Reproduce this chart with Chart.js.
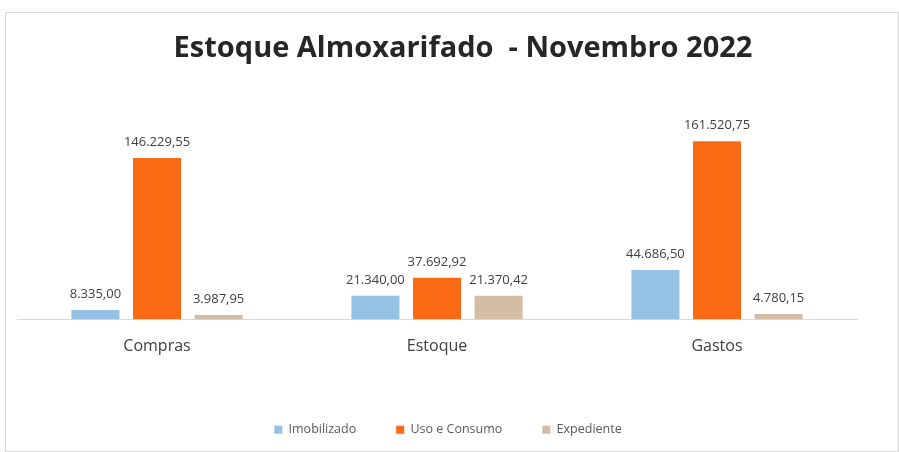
<!DOCTYPE html>
<html>
<head>
<meta charset="utf-8">
<script src="https://cdn.jsdelivr.net/npm/chart.js@4"></script>
<style>
  html, body { margin: 0; padding: 0; background: #fff; }
  #wrap { width: 899px; height: 452px; position: relative; }
</style>
</head>
<body>
<div id="wrap"><canvas id="chart" width="899" height="452"></canvas></div>
<script>
const categories = ["Compras", "Estoque", "Gastos"];
const imobilizado = [8335.00, 21340.00, 44686.50];
const usoConsumo = [146229.55, 37692.92, 161520.75];
const expediente = [3987.95, 21370.42, 4780.15];
const seriesNames = ["Imobilizado", "Uso e Consumo", "Expediente"];

const fmt = v => v.toLocaleString("pt-BR", { minimumFractionDigits: 2, maximumFractionDigits: 2 });

// draws value labels above each bar
const valueLabels = {
  id: "valueLabels",
  afterDatasetsDraw(chart) {
    const ctx = chart.ctx;
    ctx.save();
    ctx.font = "13px 'Open Sans'";
    ctx.fillStyle = "#404040";
    ctx.textAlign = "center";
    ctx.textBaseline = "bottom";
    chart.data.datasets.forEach((ds, i) => {
      chart.getDatasetMeta(i).data.forEach((bar, j) => {
        ctx.fillText(fmt(ds.data[j]), bar.x, bar.y - 9);
      });
    });
    ctx.restore();
  }
};

// title and legend sit a little right of the plot centre in the original
const nudge = {
  id: "nudge",
  afterLayout(chart) {
    chart.titleBlock.left += 26;
    chart.titleBlock.right += 26;
    chart.legend.left += 11;
    chart.legend.right += 11;
  }
};

// thin frame around the chart like the original
const frame = {
  id: "frame",
  beforeDraw(chart) {
    const ctx = chart.ctx;
    ctx.save();
    ctx.strokeStyle = "#d9d9d9";
    ctx.lineWidth = 1;
    ctx.strokeRect(5.5, 12.5, 893, 439);
    ctx.restore();
  }
};

const ctx = document.getElementById("chart").getContext("2d");
new Chart(ctx, {
  type: "bar",
  data: {
    labels: categories,
    datasets: [
      { label: seriesNames[0], data: imobilizado, backgroundColor: "#95C2E4" },
      { label: seriesNames[1], data: usoConsumo, backgroundColor: "#FC6A16" },
      { label: seriesNames[2], data: expediente, backgroundColor: "#D5BDA5" }
    ]
  },
  options: {
    responsive: false,
    animation: false,
    layout: { padding: { left: 17, right: 42, top: 0, bottom: 6 } },
    datasets: {
      bar: { barPercentage: 0.78, categoryPercentage: 0.66 }
    },
    plugins: {
      title: {
        display: true,
        text: "Estoque Almoxarifado  - Novembro 2022",
        color: "#262626",
        font: { family: "'Open Sans'", size: 29, weight: "bold" },
        padding: { top: 31, bottom: 55 }
      },
      legend: {
        position: "bottom",
        labels: {
          color: "#595959",
          font: { family: "'Open Sans'", size: 12.5 },
          boxWidth: 8,
          boxHeight: 8,
          padding: 40
        }
      },
      tooltip: { enabled: false }
    },
    scales: {
      x: {
        grid: { display: false, drawTicks: false },
        border: { display: true, color: "#d9d9d9" },
        ticks: {
          color: "#404040",
          font: { family: "'Open Sans'", size: 16 },
          padding: 18
        },
        afterFit(scale) { scale.height += 9; }
      },
      y: {
        display: false,
        min: 0,
        max: 180000
      }
    }
  },
  plugins: [valueLabels, nudge, frame]
});
</script>
</body>
</html>
